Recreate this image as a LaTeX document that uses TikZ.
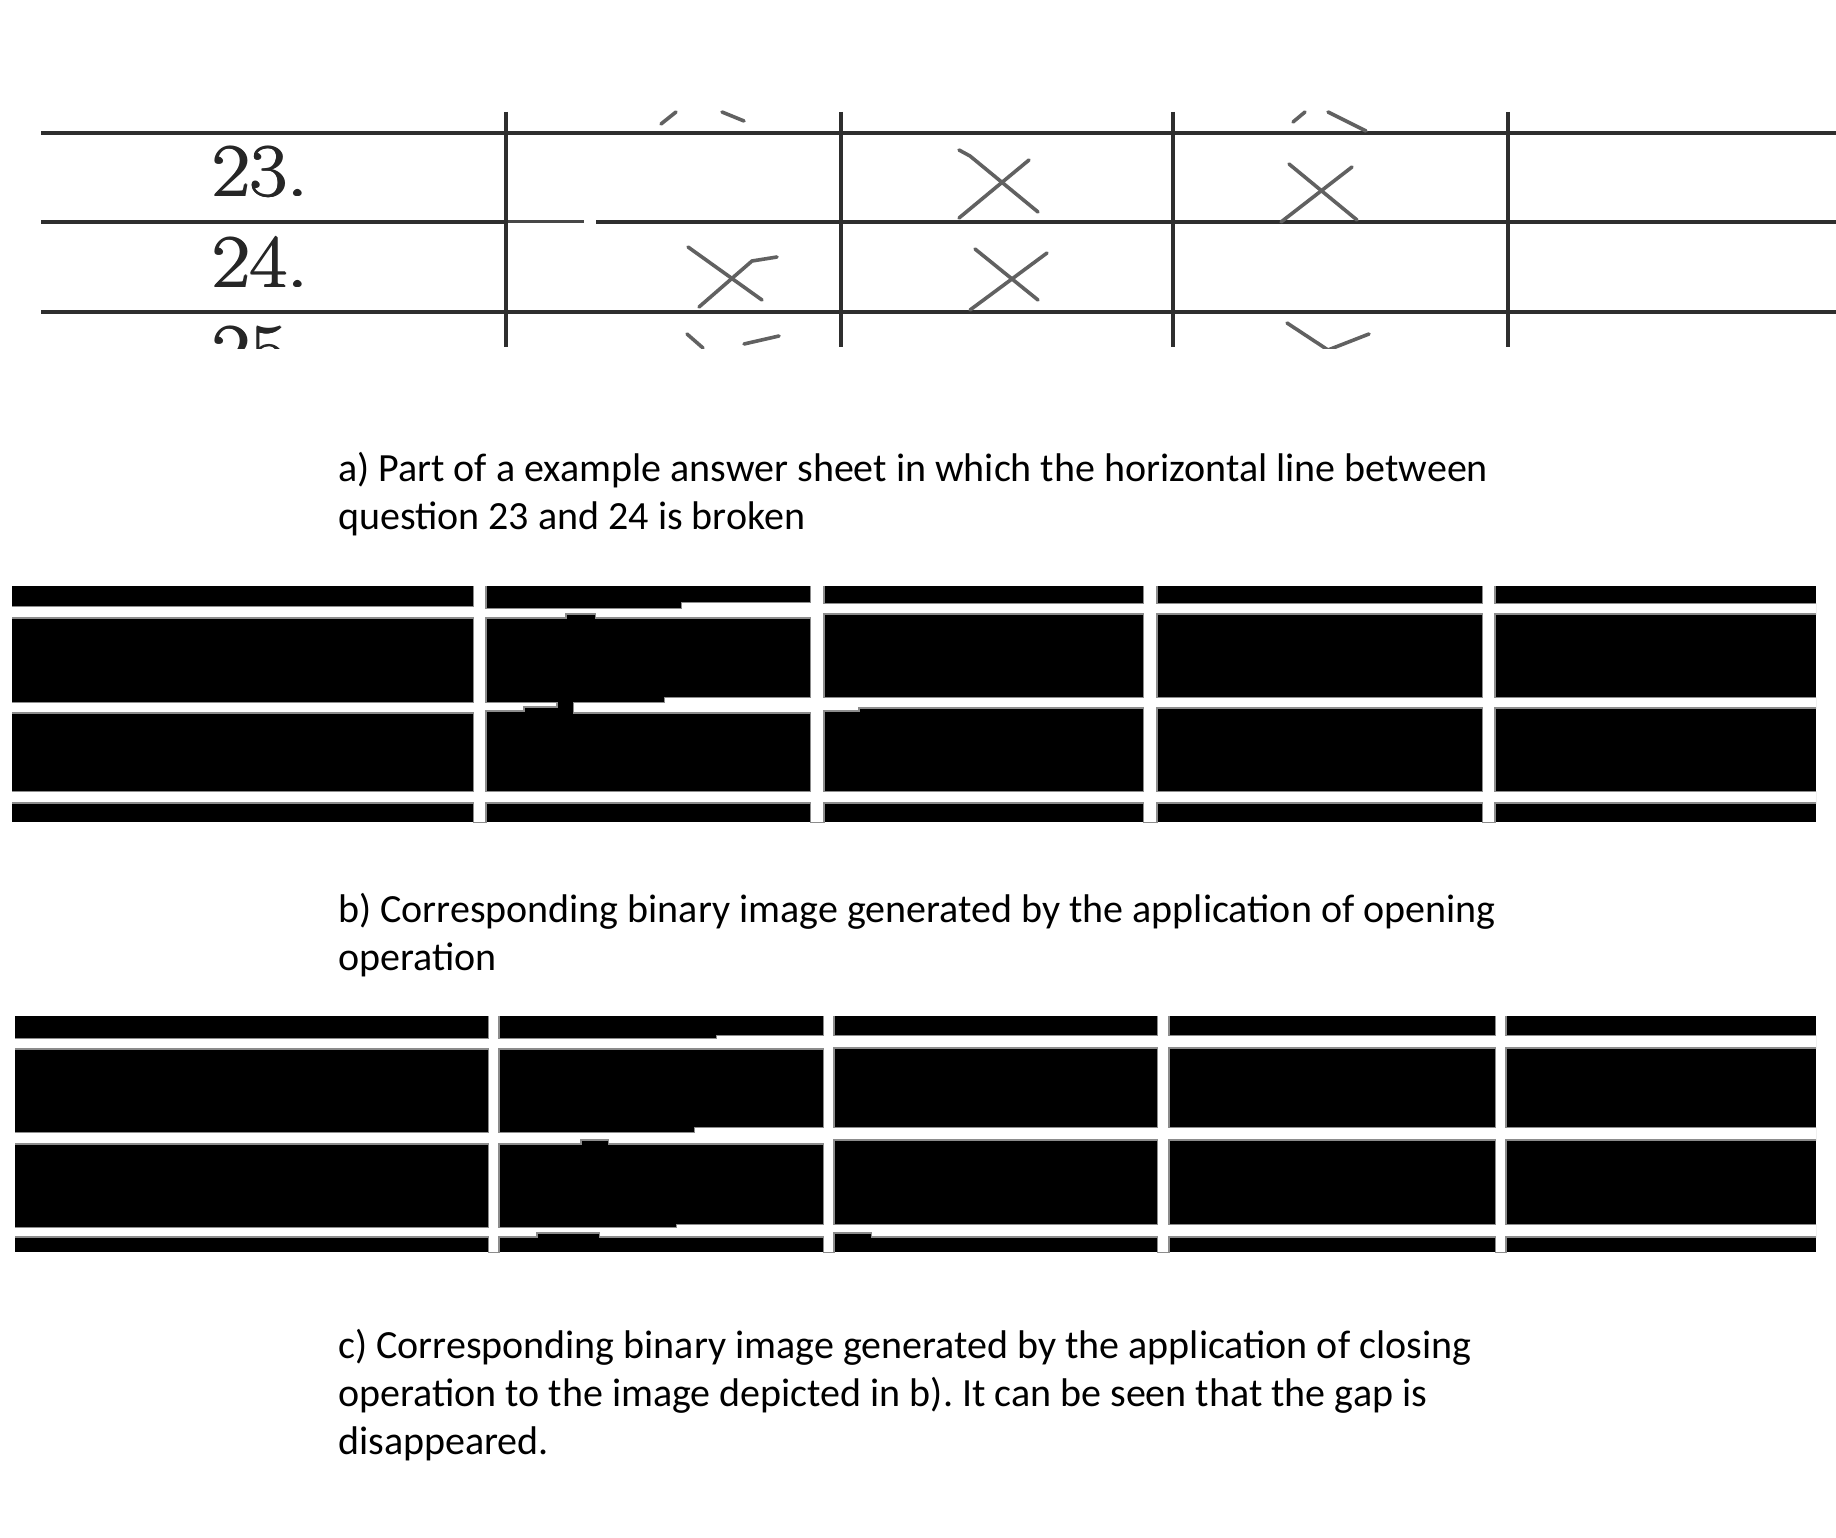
\documentclass[tikz,border=0pt]{standalone}
\usepackage{fontspec}
\newfontfamily\capfont{Carlito}
\newcommand\embold[1]{\rlap{#1}\rlap{\kern1.6pt#1}\rlap{\kern0.8pt\raisebox{0.9pt}{#1}}\rlap{\kern0.8pt\raisebox{-0.6pt}{#1}}\phantom{#1}\kern1.6pt}
\frenchspacing
\begin{document}
\begin{tikzpicture}[x=1pt,y=-1pt,
  scanline/.style={draw=black!82,line width=3.4pt},
  faintline/.style={draw=black!72,line width=3pt},
  xstroke/.style={draw=black!62,line width=3.6pt,line cap=round,line join=round},
  qnum/.style={anchor=west,inner sep=0pt,text=black!85,font=\fontsize{75}{80}\selectfont,xscale=1.1},
  caption/.style={anchor=base west,inner sep=0pt,align=left,font=\capfont\fontsize{40}{48}\selectfont}]
\useasboundingbox (0,0) rectangle (1836,1538);
\fill[white] (0,0) rectangle (1836,1538);

% ---------- panel a: scanned answer sheet ----------
\begin{scope}
\clip (0,111) rectangle (1836,348);
\draw[scanline] (41,133) -- (1836,133);
\draw[scanline] (41,222) -- (507,222);
\draw[faintline] (507,222) -- (584,222);
\draw[scanline] (596,222) -- (1836,222);
\draw[scanline] (41,312) -- (1836,312);
\foreach \x in {506,841,1173,1508} \draw[scanline] (\x,112) -- (\x,347);
\node[qnum] (q23) at (211,172) {\embold{23.}};
\node[qnum] (q24) at (211,262) {\embold{24.}};
\node[qnum] (q25) at (211,352) {\embold{25.}};
% crosses
\draw[xstroke] (959,150) -- (970,156) -- (1038,212);
\draw[xstroke] (1029,160) -- (959,218);
\draw[xstroke] (1289,164) -- (1357,220);
\draw[xstroke] (1352,167) -- (1281,222);
\draw[xstroke] (688,247) -- (762,300);
\draw[xstroke] (777,257) -- (752,261) -- (699,307);
\draw[xstroke] (975,249) -- (1038,300);
\draw[xstroke] (1047,253) -- (970,310);
% partial marks cut by the crop
\draw[xstroke] (661,124) -- (676,112);
\draw[xstroke] (722,112) -- (744,121);
\draw[xstroke] (1293,122) -- (1305,112);
\draw[xstroke] (1328,112) -- (1366,131);
\draw[xstroke] (687,334) -- (703,348);
\draw[xstroke] (744,344) -- (779,336);
\draw[xstroke] (1287,323) -- (1328,350) -- (1369,334);
\end{scope}

\node[caption] (capa) at (338,529) {a) Part of a example answer sheet in which the horizontal line between\\question 23 and 24 is broken};

% ---------- panel b: opening ----------
\def\bwhites{474/586/485/822, 811/586/823/822, 1144/586/1156/822, 1483/586/1494/822,
  12/607/474/617, 485/609/565/617, 565/609/596/613, 596/609/682/617, 682/603/811/617, 823/604/1816/613,
  12/703/474/712, 485/703/523/710, 523/703/556/706, 574/703/665/712, 665/698/811/712, 823/698/858/710, 858/698/1816/707,
  12/792/1816/802}
\begin{scope}
\clip (12,586) rectangle (1816,822);
\fill[black] (12,586) rectangle (1816,822);
\foreach \a/\b/\c/\d in \bwhites \fill[black!45] ({\a-1.5},{\b-1.5}) rectangle ({\c+1.5},{\d+1.5});
\foreach \a/\b/\c/\d in \bwhites \fill[white] (\a,\b) rectangle (\c,\d);
\end{scope}

\node[caption] (capb) at (338,970) {b) Corresponding binary image generated by the application of opening\\operation};

% ---------- panel c: closing ----------
\def\cwhites{489/1016/498/1252, 824/1016/833/1252, 1158/1016/1168/1252, 1496/1016/1505/1252,
  15/1039/489/1048, 498/1039/717/1048, 717/1036/824/1048, 833/1036/1816/1047,
  15/1133/489/1143, 498/1133/580/1143, 580/1133/609/1139, 609/1133/695/1143, 695/1128/824/1143, 833/1128/1816/1139,
  15/1228/489/1236, 498/1228/536/1236, 536/1228/600/1232, 600/1228/677/1236, 677/1225/824/1236, 833/1225/872/1232, 872/1225/1816/1236}
\begin{scope}
\clip (15,1016) rectangle (1816,1252);
\fill[black] (15,1016) rectangle (1816,1252);
\foreach \a/\b/\c/\d in \cwhites \fill[black!45] ({\a-1.5},{\b-1.5}) rectangle ({\c+1.5},{\d+1.5});
\foreach \a/\b/\c/\d in \cwhites \fill[white] (\a,\b) rectangle (\c,\d);
\end{scope}

\node[caption] (capc) at (338,1454) {c) Corresponding binary image generated by the application of closing\\operation to the image depicted in b). It can be seen that the gap is\\disappeared.};
\end{tikzpicture}
\end{document}
